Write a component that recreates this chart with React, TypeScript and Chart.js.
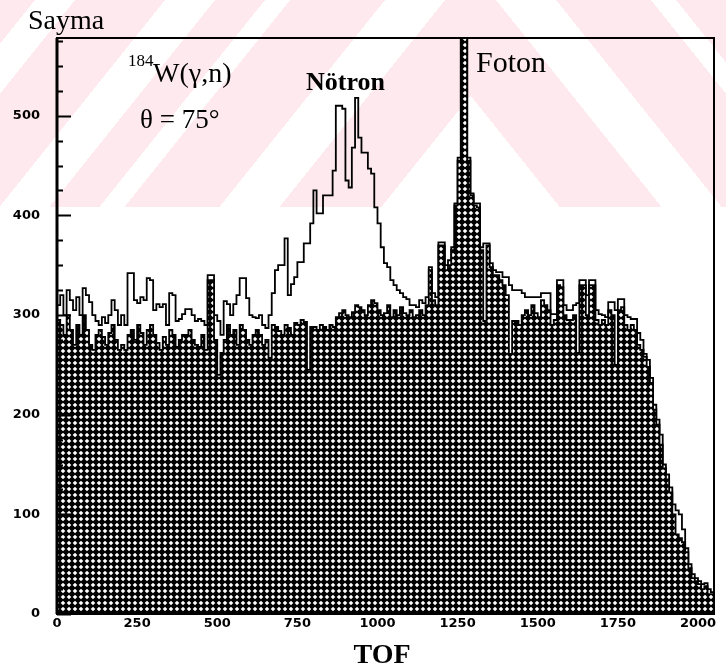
import React, { useEffect, useRef } from 'react';
import { Chart, registerables } from 'chart.js';

Chart.register(...registerables);

// ---- data ----
const BIN_WIDTH = 10; // TOF units per channel bin
const X_MIN = 0;
const X_MAX = 2050;
const Y_MIN = 0;
const Y_MAX = 578;
const X_TICK_STEP = 250;
const Y_TICK_STEP = 100;
const Y_MINOR_STEP = 25;
const X_TICK_LABELS = ['0', '250', '500', '750', '1000', '1250', '1500', '1750', '2000'];
const Y_TICK_LABELS = ['0', '100', '200', '300', '400', '500'];

// Hatched histogram (Foton + background)
const hatched: number[] = [
  295, 290, 280, 300, 285, 270, 290, 280, 300, 285, 270, 265, 280, 285, 278, 270, 282, 290, 275, 265,
  270, 265, 280, 285, 275, 290, 282, 270, 285, 290, 280, 272, 265, 278, 270, 285, 280, 268, 275, 280,
  280, 285, 275, 270, 268, 280, 265, 335, 335, 275, 240, 262, 275, 290, 280, 285, 270, 290, 285, 275,
  270, 280, 285, 280, 270, 275, 257, 290, 288, 284, 280, 290, 287, 280, 292, 290, 295, 293, 245, 288,
  288, 285, 290, 288, 285, 290, 288, 298, 302, 305, 300, 298, 303, 310, 308, 305, 300, 310, 315, 312,
  305, 300, 302, 310, 298, 305, 300, 308, 302, 300, 305, 298, 300, 305, 300, 310, 345, 315, 310, 370,
  370, 345, 350, 365, 410, 455, 600, 600, 455, 420, 410, 408, 365, 294, 370, 348, 340, 340, 335, 330,
  320, 261, 294, 294, 290, 300, 305, 300, 310, 302, 298, 315, 310, 305, 290, 295, 330, 328, 300, 295,
  295, 300, 262, 330, 330, 300, 330, 330, 295, 290, 295, 290, 305, 300, 250, 305, 308, 290, 285, 290,
  285, 270, 265, 258, 248, 232, 205, 190, 170, 146, 135, 122, 100, 80, 76, 72, 62, 46, 36, 33, 30, 25, 28, 20, 20,
];

// Open (outline) histogram (with Nötron peak)
const outline: number[] = [
  310, 320, 300, 325, 315, 305, 318, 300, 327, 320, 313, 300, 294, 290, 298, 292, 300, 315, 305, 290,
  300, 290, 342, 342, 315, 312, 318, 315, 337, 335, 305, 311, 308, 311, 290, 322, 320, 294, 296, 301,
  306, 306, 300, 294, 296, 294, 290, 340, 340, 300, 294, 280, 314, 311, 300, 311, 320, 337, 337, 317,
  300, 298, 297, 300, 290, 287, 300, 322, 345, 350, 350, 377, 320, 331, 338, 353, 353, 372, 372, 392,
  425, 402, 402, 420, 420, 420, 445, 510, 510, 507, 435, 428, 468, 518, 478, 463, 463, 447, 442, 408,
  392, 368, 352, 348, 335, 330, 325, 322, 318, 316, 310, 310, 308, 315, 312, 318, 348, 322, 318, 373,
  373, 350, 355, 368, 412, 458, 600, 600, 458, 422, 412, 412, 368, 372, 372, 352, 345, 343, 343, 338,
  338, 330, 325, 325, 325, 322, 318, 318, 318, 318, 318, 322, 322, 322, 301, 301, 335, 335, 310, 305,
  305, 310, 312, 335, 335, 320, 335, 335, 305, 301, 300, 298, 313, 313, 305, 316, 316, 300, 298, 296,
  296, 282, 275, 261, 255, 237, 210, 195, 180, 150, 140, 127, 110, 104, 100, 85, 66, 50, 40, 36, 33, 30, 31, 25, 22,
];

function toSteps(vals: number[]) {
  const pts = vals.map((v, i) => ({ x: X_MIN + i * BIN_WIDTH, y: v }));
  pts.push({ x: X_MIN + vals.length * BIN_WIDTH, y: vals[vals.length - 1] });
  return pts;
}

function makeHatch(ctx: CanvasRenderingContext2D) {
  const t = document.createElement('canvas');
  t.width = 6;
  t.height = 6;
  const c = t.getContext('2d')!;
  c.fillStyle = '#000';
  c.fillRect(0, 0, 6, 6);
  c.fillStyle = '#fff';
  c.beginPath();
  c.moveTo(3, 0.7);
  c.lineTo(5.3, 3);
  c.lineTo(3, 5.3);
  c.lineTo(0.7, 3);
  c.closePath();
  c.fill();
  return ctx.createPattern(t, 'repeat')!;
}

// faint pink chevron watermark of the scanned page
const WM_BANDS = [
  [88, 190],
  [250, 345],
  [370, 420],
  [470, 560],
  [600, 700],
];
function buildWatermark(w: number, h: number) {
  const c = document.createElement('canvas');
  c.width = w;
  c.height = h;
  const g = c.getContext('2d')!;
  const img = g.createImageData(w, h);
  for (let yy = 0; yy < h; yy++) {
    for (let xx = 0; xx < w; xx++) {
      const v = Math.abs(xx - 470) - 0.8 * (yy - 205);
      let pink = false;
      for (const [a, b] of WM_BANDS) if (v >= a && v < b) pink = true;
      const o = (yy * w + xx) * 4;
      if (pink) {
        img.data[o] = 253;
        img.data[o + 1] = 233;
        img.data[o + 2] = 238;
        img.data[o + 3] = 255;
      }
    }
  }
  g.putImageData(img, 0, 0);
  return c;
}

const watermarkPlugin = {
  id: 'watermark',
  beforeDraw(chart: any) {
    const ctx = chart.ctx as CanvasRenderingContext2D;
    ctx.save();
    ctx.fillStyle = '#fff';
    ctx.fillRect(0, 0, chart.width, chart.height);
    if (!chart.$wm) chart.$wm = buildWatermark(chart.width, 207);
    ctx.drawImage(chart.$wm, 0, 0);
    ctx.restore();
  },
};

const framePlugin = {
  id: 'frame',
  afterDatasetsDraw(chart: any) {
    const ctx = chart.ctx as CanvasRenderingContext2D;
    const a = chart.chartArea;
    const ys = chart.scales.y;
    ctx.save();
    ctx.strokeStyle = '#000';
    ctx.lineWidth = 2;
    ctx.strokeRect(a.left, a.top, a.right - a.left, a.bottom - a.top);
    ctx.lineWidth = 3;
    ctx.beginPath();
    ctx.moveTo(a.left, a.top);
    ctx.lineTo(a.left, a.bottom);
    ctx.stroke();
    ctx.lineWidth = 2;
    ctx.beginPath();
    for (let v = Y_MIN; v <= Y_MAX; v += Y_MINOR_STEP) {
      const py = Math.round(ys.getPixelForValue(v)) + 0.5;
      const len = v % Y_TICK_STEP === 0 ? 14 : 6;
      ctx.moveTo(a.left, py);
      ctx.lineTo(a.left + len, py);
    }
    ctx.stroke();
    ctx.restore();
  },
};

const textPlugin = {
  id: 'texts',
  afterDraw(chart: any) {
    const ctx = chart.ctx as CanvasRenderingContext2D;
    ctx.save();
    ctx.fillStyle = '#000';
    ctx.textBaseline = 'alphabetic';
    ctx.textAlign = 'left';
    ctx.font = '28px "Liberation Serif"';
    ctx.fillText('Sayma', 28, 29);
    ctx.font = '17px "Liberation Serif"';
    ctx.fillText('184', 128, 66);
    ctx.font = '28px "Liberation Serif"';
    ctx.fillText('W(γ,n)', 153, 82);
    ctx.font = '27px "Liberation Serif"';
    ctx.fillText('θ = 75°', 140, 128);
    ctx.font = 'bold 26px "Liberation Serif"';
    ctx.fillText('Nötron', 306, 90);
    ctx.font = '30px "Liberation Serif"';
    ctx.fillText('Foton', 476, 72);
    ctx.font = 'bold 28px "Liberation Serif"';
    ctx.textAlign = 'center';
    ctx.fillText('TOF', 382, 663);
    ctx.restore();
  },
};

export default function App() {
  const ref = useRef<HTMLCanvasElement>(null);
  useEffect(() => {
    const canvas = ref.current!;
    const ctx = canvas.getContext('2d')!;
    const hatch = makeHatch(ctx);
    const tickFont = { family: '"DejaVu Sans"', size: 13, weight: 'bold' as const };
    const chart = new Chart(canvas, {
      type: 'line',
      data: {
        datasets: [
          {
            label: 'Foton',
            data: toSteps(hatched),
            stepped: true,
            borderColor: '#000',
            borderWidth: 1.8,
            backgroundColor: hatch,
            fill: 'origin',
            pointRadius: 0,
          },
          {
            label: 'Nötron',
            data: toSteps(outline),
            stepped: true,
            borderColor: '#000',
            borderWidth: 1.8,
            backgroundColor: 'rgba(0,0,0,0)',
            fill: false,
            pointRadius: 0,
          },
        ],
      },
      options: {
        responsive: false,
        animation: false,
        events: [],
        layout: { padding: { left: 0, right: 12, top: 38, bottom: 0 } },
        plugins: { legend: { display: false }, tooltip: { enabled: false } },
        scales: {
          x: {
            type: 'linear',
            min: X_MIN,
            max: X_MAX,
            grid: { display: false, drawTicks: false },
            border: { display: false },
            afterFit: (s: any) => {
              s.height = 58;
            },
            afterBuildTicks: (s: any) => {
              s.ticks = X_TICK_LABELS.map((_, i) => ({ value: X_MIN + i * X_TICK_STEP }));
            },
            ticks: {
              color: '#000',
              font: tickFont,
              padding: 2,
              maxRotation: 0,
              autoSkip: false,
              callback: (_v: any, i: number) => X_TICK_LABELS[i],
            },
          },
          y: {
            type: 'linear',
            min: Y_MIN,
            max: Y_MAX,
            grid: { display: false, drawTicks: false },
            border: { display: false },
            afterFit: (s: any) => {
              s.width = 57;
            },
            afterBuildTicks: (s: any) => {
              s.ticks = Y_TICK_LABELS.map((_, i) => ({ value: Y_MIN + i * Y_TICK_STEP }));
            },
            ticks: {
              color: '#000',
              font: tickFont,
              padding: 17,
              autoSkip: false,
              callback: (_v: any, i: number) => Y_TICK_LABELS[i],
            },
          },
        },
      },
      plugins: [watermarkPlugin, framePlugin, textPlugin],
    });
    return () => chart.destroy();
  }, []);
  return (
    <div style={{ position: 'absolute', left: 0, top: 0, width: 726, height: 672 }}>
      <canvas ref={ref} width={726} height={672} style={{ display: 'block' }} />
    </div>
  );
}
